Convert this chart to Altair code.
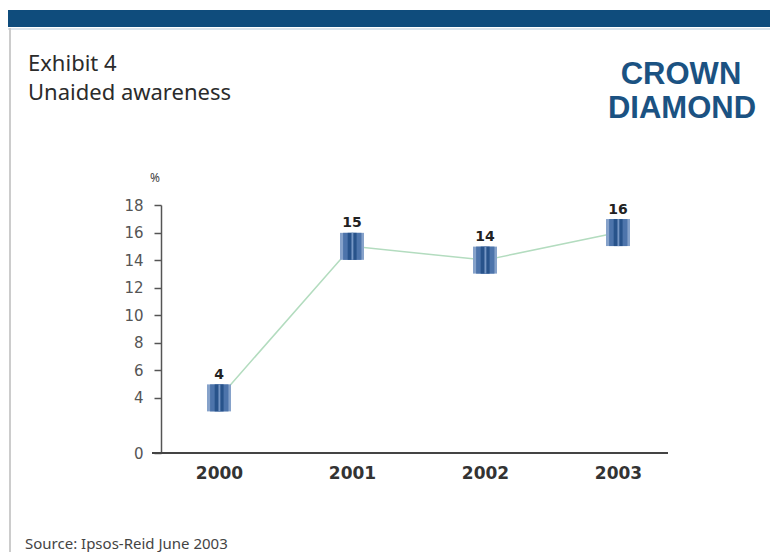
import altair as alt
import pandas as pd

years = ["2000", "2001", "2002", "2003"]
values = [4, 15, 14, 16]
labels = ["4", "15", "14", "16"]
y_ticks = [0, 4, 6, 8, 10, 12, 14, 16, 18]

title_line1 = "Exhibit 4"
title_line2 = "Unaided awareness"
logo_line1 = "CROWN"
logo_line2 = "DIAMOND"
unit_label = "%"
source_text = "Source: Ipsos-Reid June 2003"

df = pd.DataFrame({"year": years, "value": values, "label": labels})
one = pd.DataFrame({"k": [0]})

x_enc = alt.X("year:O", scale=alt.Scale(type="point", range=[67, 466], padding=0),
              axis=alt.Axis(title=None, labelAngle=0, ticks=False, grid=False,
                            domain=False,
                            labelFont="DejaVu Sans", labelFontWeight="bold",
                            labelFontSize=17, labelColor="#333333", labelPadding=12))
y_enc = alt.Y("value:Q", scale=alt.Scale(domain=[0, 18], nice=False, zero=True),
              axis=alt.Axis(title=None, values=y_ticks, grid=False, offset=-9,
                            domainColor="#555555", domainWidth=1.5,
                            tickColor="#555555", tickSize=7, tickWidth=1.5,
                            labelFont="DejaVu Sans", labelFontSize=15,
                            labelColor="#555555", labelPadding=11))

base = alt.Chart(df)

x_axis_line = alt.Chart(one).mark_rule(color="#444444", strokeWidth=2).encode(
    x=alt.value(0), x2=alt.value(516), y=alt.value(248))

line = base.mark_line(color="#b3dcbf", strokeWidth=1.5).encode(x=x_enc, y=y_enc)

def rect_path(segments):
    return " ".join(f"M{a},-1 H{b} V1 H{a} Z" for a, b in segments)

marker_layers = [
    ([(-0.89, 0.89)], "#86a2ca"),
    ([(-0.66, 0.7)], "#4d74ab"),
    ([(-0.32, 0.34)], "#28538b"),
    ([(-0.04, 0.1)], "#7596c4"),
]
markers = [
    base.mark_point(shape=rect_path(segs), size=729, filled=True, opacity=1,
                    color=col, strokeWidth=0).encode(x=x_enc, y=y_enc)
    for segs, col in marker_layers
]

val_text = base.mark_text(font="DejaVu Sans", fontWeight="bold", fontSize=14,
                          color="#222222", dy=-19, baseline="alphabetic").encode(
    x=x_enc, y=y_enc, text="label:N")

def txt(s, x, y, **kw):
    return alt.Chart(one).mark_text(text=s, **kw).encode(x=alt.value(x), y=alt.value(y))

band = alt.Chart(one).mark_rect(color="#0f4c7c").encode(
    x=alt.value(-144), x2=alt.value(630), y=alt.value(-195), y2=alt.value(-178))
band_line = alt.Chart(one).mark_rule(color="#cfdbe6", strokeWidth=1.5).encode(
    x=alt.value(-144), x2=alt.value(630), y=alt.value(-176))
left_border = alt.Chart(one).mark_rule(color="#cccccc", strokeWidth=2).encode(
    x=alt.value(-142), y=alt.value(-177), y2=alt.value(360))

t1 = txt(title_line1, -124, -134, font="Noto Sans", fontSize=22, color="#2b2b2b",
         align="left", baseline="alphabetic")
t2 = txt(title_line2, -124, -105, font="Noto Sans", fontSize=22, color="#2b2b2b",
         align="left", baseline="alphabetic")
l1 = txt(logo_line1, 529, -121, font="Liberation Sans", fontWeight="bold", fontSize=31,
         color="#1b5282", align="center", baseline="alphabetic")
l2 = txt(logo_line2, 530, -87, font="Liberation Sans", fontWeight="bold", fontSize=31,
         color="#1b5282", align="center", baseline="alphabetic")
pct = txt(unit_label, 3, -27, font="Noto Sans", fontSize=12, color="#444444",
          align="center", baseline="middle")
src = txt(source_text, -127, 344, font="Noto Sans", fontSize=15, color="#444444",
          align="left", baseline="alphabetic")

chart = alt.layer(band, band_line, left_border, t1, t2, l1, l2, pct, src,
                  x_axis_line, line, *markers, val_text).properties(
    width=516, height=248,
    padding={"left": 144, "top": 197, "right": 102, "bottom": 99},
    autosize=alt.AutoSizeParams(type="none"),
    background="white",
).configure_view(strokeWidth=0, stroke="transparent")

chart.save("out.html", embed_options={"renderer": "svg", "actions": False})
